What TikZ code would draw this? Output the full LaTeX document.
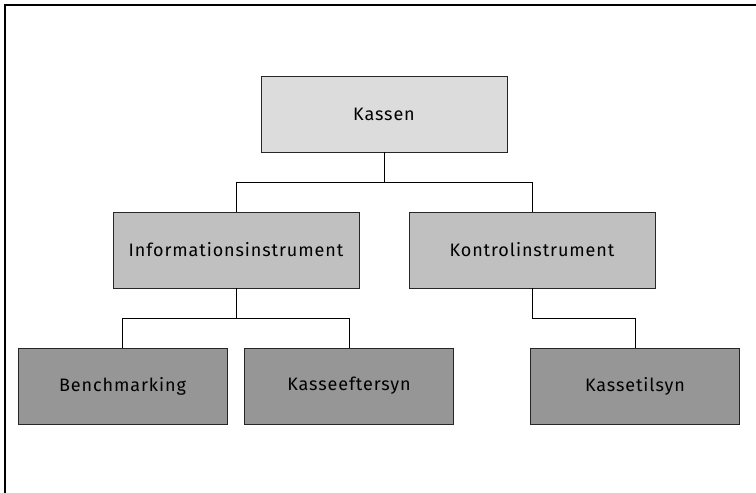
\documentclass[tikz,border=0pt]{standalone}
\usepackage{fontspec}
\setmainfont{Fira Sans}[LetterSpace=5]
\definecolor{topfill}{RGB}{220,220,220}
\definecolor{midfill}{RGB}{192,192,192}
\definecolor{lowfill}{RGB}{150,150,150}
\begin{document}
\begin{tikzpicture}[x=1pt,y=-1pt,
  orgbox/.style={draw=black!85,line width=0.9pt,minimum height=76pt,inner sep=0pt,
    font=\fontsize{18}{20}\selectfont,text=black},
  topbox/.style={orgbox,fill=topfill,minimum width=246pt},
  midbox/.style={orgbox,fill=midfill,minimum width=246pt},
  lowbox/.style={orgbox,fill=lowfill,minimum width=209pt},
  link/.style={draw=black,line width=0.9pt}]
  \useasboundingbox (0,0) rectangle (756,493);
  % outer frame, running off the right and bottom edges
  \draw[line width=2.6pt] (5,500) -- (5,5) -- (770,5);

  \node[topbox] (kassen) at (384,114) {Kassen};
  \node[midbox] (info) at (236,250) {Informationsinstrument};
  \node[midbox] (kontrol) at (532,250) {Kontrolinstrument};
  \node[lowbox] (bench) at (122.5,386) {Benchmarking};
  \node[lowbox] (efter) at (349,386) {Kasseeftersyn};
  \node[lowbox] (tilsyn) at (635,386) {Kassetilsyn};

  \coordinate (split1) at (384,182);
  \coordinate (split2) at (236,318);
  \coordinate (split3) at (532,318);

  \draw[link] (kassen.south) -- (split1);
  \draw[link] (split1) -| (info.north);
  \draw[link] (split1) -| (kontrol.north);
  \draw[link] (info.south) -- (split2);
  \draw[link] (split2) -| (bench.north);
  \draw[link] (split2) -| (efter.north);
  \draw[link] (kontrol.south) -- (split3) -| (tilsyn.north);
\end{tikzpicture}
\end{document}
